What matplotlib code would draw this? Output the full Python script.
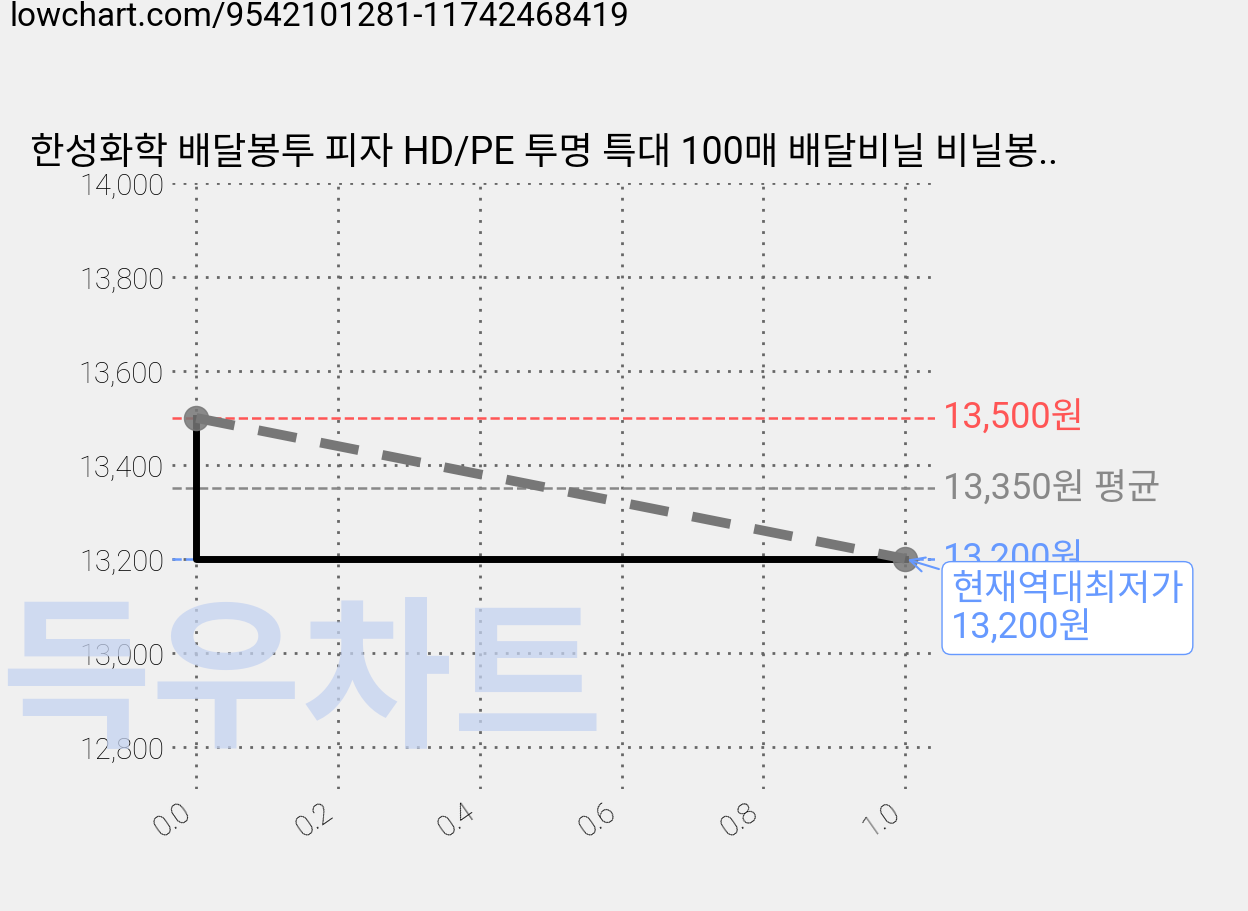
import matplotlib
matplotlib.use("Agg")
import matplotlib.pyplot as plt

plt.rcParams['font.family'] = ['Roboto', 'Noto Sans CJK KR', 'DejaVu Sans']

x_vals = [0.0, 1.0]
prices = [13500, 13200]
max_price = 13500
avg_price = 13350
min_price = 13200
xticks = [0.0, 0.2, 0.4, 0.6, 0.8, 1.0]
yticks = [12800, 13000, 13200, 13400, 13600, 13800, 14000]
title = "한성화학 배달봉투 피자 HD/PE 투명 특대 100매 배달비닐 비닐봉.."

fig = plt.figure(figsize=(12.48, 9.12), dpi=100, facecolor='#f0f0f0')
ax = fig.add_axes([0.138, 0.134, 0.611, 0.664])
ax.set_facecolor('#f0f0f0')
for s in ax.spines.values():
    s.set_visible(False)

fig.text(0.0, 0.245, "득우차트", fontsize=118, color='#c5d3f0', alpha=0.75,
         fontweight='black', ha='left', va='center', zorder=0)

ax.grid(True, linestyle=(0, (1, 3)), color='#666666', linewidth=2)
ax.set_axisbelow(True)

ax.axhline(max_price, color='#ff5555', linestyle='--', linewidth=1.8)
ax.axhline(avg_price, color='#888888', linestyle='--', linewidth=1.8)
ax.axhline(min_price, color='#6699ff', linestyle='--', linewidth=1.8)

ax.plot([x_vals[0], x_vals[0], x_vals[1]], [prices[0], prices[1], prices[1]],
        color='black', linewidth=5, zorder=3)
ax.plot(x_vals, prices, color='#777777', linewidth=7, linestyle=(0, (4, 2.5)), zorder=4)
ax.scatter(x_vals, prices, s=300, color='#777777', alpha=0.85, zorder=5)

ax.set_xlim(-0.034, 1.042)
ax.set_ylim(12710, 14000)
ax.set_xticks(xticks)
ax.set_xticklabels([f"{v:.1f}" for v in xticks], rotation=35, ha='right',
                   fontsize=21, fontweight='light')
ax.set_yticks(yticks)
ax.set_yticklabels([f"{v:,}" for v in yticks], fontsize=21, fontweight='light')
ax.tick_params(length=0, pad=6)

tr = ax.get_yaxis_transform()
ax.text(1.011, max_price, f"{max_price:,}원", color='#ff5555', fontsize=26, va='center', transform=tr)
ax.text(1.011, avg_price, f"{avg_price:,}원 평균", color='#888888', fontsize=26, va='center', transform=tr)
ax.text(1.011, min_price, f"{min_price:,}원", color='#6699ff', fontsize=26, va='center', transform=tr)

ax.annotate(f"현재역대최저가\n{min_price:,}원", xy=(1.0, min_price), xytext=(1.065, 13095),
            fontsize=26, color='#6699ff', va='center', ha='left', linespacing=1.1,
            bbox=dict(boxstyle='round,pad=0.25', fc='white', ec='#6699ff'),
            arrowprops=dict(arrowstyle='->', color='#6699ff', lw=1.5),
            annotation_clip=False, zorder=6)

fig.text(0.024, 0.832, title, fontsize=27, ha='left', va='center')
fig.text(0.008, 0.981, "lowchart.com/9542101281-11742468419", fontsize=24, ha='left', va='center')

fig.savefig("out.png", dpi=100, facecolor=fig.get_facecolor())
